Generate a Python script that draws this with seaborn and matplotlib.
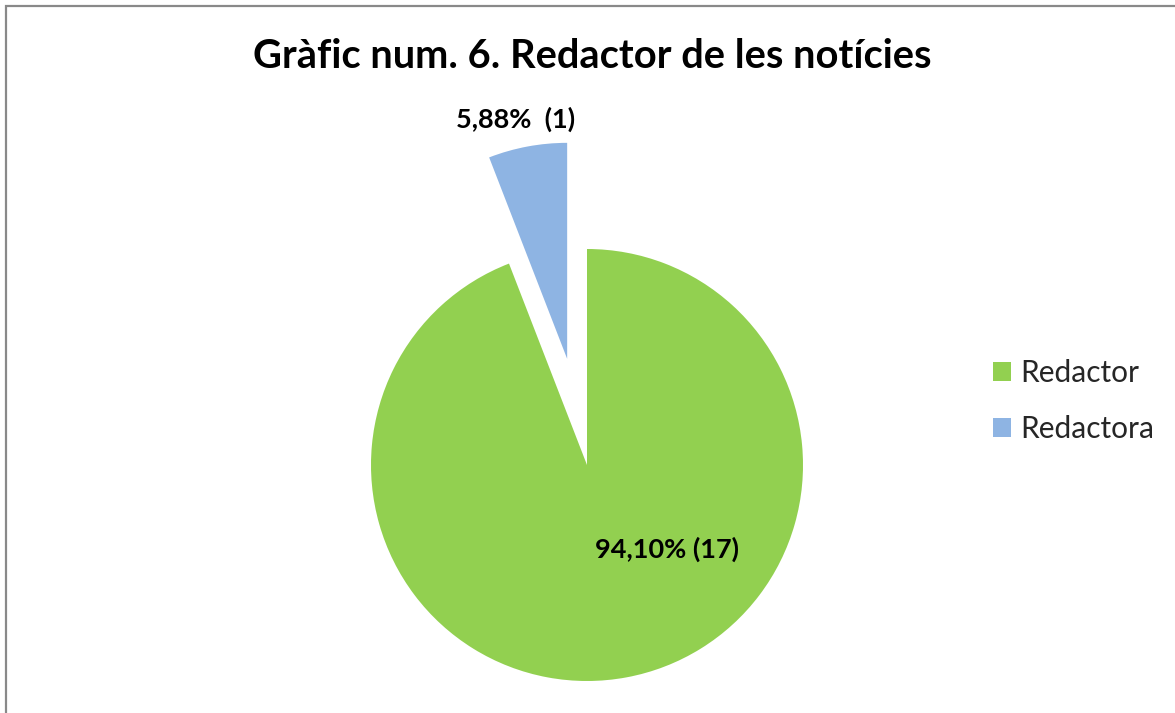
import matplotlib
matplotlib.use("Agg")
import matplotlib.pyplot as plt
import seaborn as sns
from matplotlib.patches import Rectangle, Patch

categories = ['Redactor', 'Redactora']
percentages = [94.10, 5.88]
counts = [17, 1]
pct_labels = ['94,10% (17)', '5,88%  (1)']
colors = ['#92D050', '#8EB4E3']

sns.set_theme(style="white")
plt.rcParams['font.family'] = ['Lato', 'DejaVu Sans']

W, H = 1175, 713
fig = plt.figure(figsize=(W / 100, H / 100), dpi=100)
ax = fig.add_axes([0, 0, 1, 1])

# pie centre and radius in pixels
cx, cy, r = 587, 465, 216

ax.pie(percentages, colors=colors, startangle=90, counterclock=False,
       explode=[0, 0.5], radius=1, center=(0, 0), frame=True,
       wedgeprops={'linewidth': 0})
ax.set_xlim(-cx / r, (W - cx) / r)
ax.set_ylim(-(H - cy) / r, cy / r)
ax.set_aspect('equal')
ax.axis('off')

ax.text((667 - cx) / r, (cy - 549) / r, pct_labels[0], ha='center', va='center',
        fontsize=19.5, fontweight='bold', color='black')
ax.text((516 - cx) / r, (cy - 119) / r, pct_labels[1], ha='center', va='center',
        fontsize=19.5, fontweight='bold', color='black')

fig.text(592 / W, 1 - 57 / H, 'Gràfic num. 6. Redactor de les notícies',
         ha='center', va='center', fontsize=28.7, fontweight='bold', color='black')

handles = [Patch(facecolor=c, edgecolor='none') for c in colors]
fig.legend(handles, categories, loc='center left', bbox_to_anchor=(993 / W, 1 - 401 / H),
           frameon=False, fontsize=21.5, handlelength=0.6, handleheight=0.6,
           handletextpad=0.3, labelspacing=0.95, borderpad=0, borderaxespad=0)

fig.patches.append(Rectangle((6 / W, -0.1), 1.2, 1.1 - 6 / H, transform=fig.transFigure,
                             fill=False, edgecolor='#898989', linewidth=1.6))

fig.savefig('out.png', dpi=100)
